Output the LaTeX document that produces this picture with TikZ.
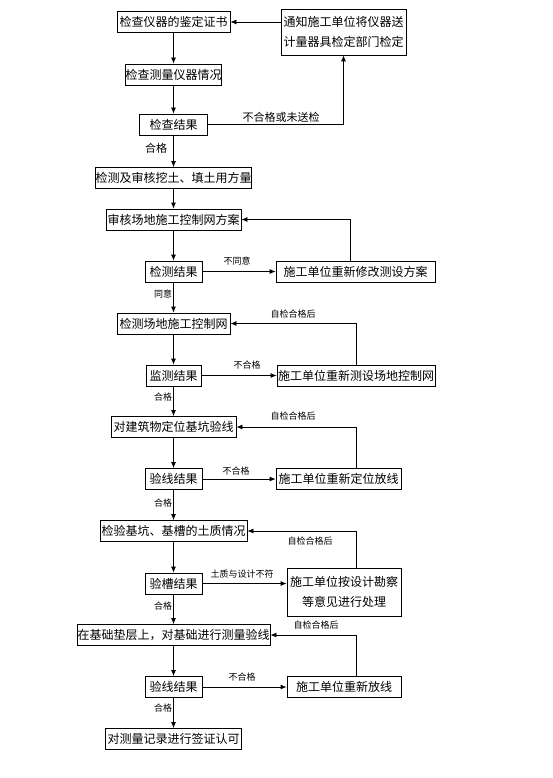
\documentclass[tikz,border=0pt]{standalone}
\usepackage{fontspec}
\setmainfont{Noto Sans CJK SC}
\usetikzlibrary{arrows.meta}

\begin{document}
\begin{tikzpicture}[x=1pt,y=-1pt,>={Latex[length=6pt,width=5pt]},
  box/.style={draw,line width=0.8pt,minimum height=21pt,inner sep=0pt,align=center,font=\fontsize{12}{20}\selectfont},
  tag/.style={inner sep=0pt,font=\fontsize{9}{10}\selectfont},
  bigtag/.style={inner sep=0pt,font=\fontsize{11}{12}\selectfont},
  flow/.style={->,line width=0.8pt}]
  \useasboundingbox (0,0) rectangle (553,778);
  % main column
  \node[box,minimum width=113pt] (cert) at (173.5,22) {检查仪器的鉴定证书};
  \node[box,minimum width=96pt] (inspect) at (173.5,74.5) {检查测量仪器情况};
  \node[box,minimum width=68pt] (res1) at (173.5,124.5) {检查结果};
  \node[box,minimum width=153pt] (earth) at (173.5,178) {检测及审核挖土、填土用方量};
  \node[box,minimum width=135pt] (plan) at (173.5,219.5) {审核场地施工控制网方案};
  \node[box,minimum width=57pt] (res2) at (173.5,271.5) {检测结果};
  \node[box,minimum width=113pt] (net) at (173.5,323.5) {检测场地施工控制网};
  \node[box,minimum width=55pt] (res3) at (173.5,375.5) {监测结果};
  \node[box,minimum width=125pt] (pit) at (173.5,427) {对建筑物定位基坑验线};
  \node[box,minimum width=57pt] (res4) at (173.5,479) {验线结果};
  \node[box,minimum width=147pt] (soil) at (173.5,531) {检验基坑、基槽的土质情况};
  \node[box,minimum width=57pt] (res5) at (173.5,583.5) {验槽结果};
  \node[box,minimum width=193pt] (base) at (173.5,635) {在基础垫层上，对基础进行测量验线};
  \node[box,minimum width=57pt] (res6) at (173.5,687) {验线结果};
  \node[box,minimum width=136pt] (sign) at (173.5,739) {对测量记录进行签证认可};
  % side boxes
  \node[box,minimum width=125pt,minimum height=46pt] (notify) at (343.5,32) {通知施工单位将仪器送\\计量器具检定部门检定};
  \node[box,minimum width=159pt] (redo2) at (355.5,271.5) {施工单位重新修改测设方案};
  \node[box,minimum width=158pt] (redo3) at (356,375.5) {施工单位重新测设场地控制网};
  \node[box,minimum width=125pt] (redo4) at (338.5,479) {施工单位重新定位放线};
  \node[box,minimum width=114pt,minimum height=48pt] (redo5) at (344,592) {施工单位按设计勘察\\等意见进行处理};
  \node[box,minimum width=114pt] (redo6) at (344,687) {施工单位重新放线};

  \foreach \a/\b in {cert/inspect,inspect/res1,res1/earth,earth/plan,plan/res2,res2/net,
    net/res3,res3/pit,pit/res4,res4/soil,soil/res5,res5/base,base/res6,res6/sign}
    \draw[flow] (\a) -- (\b);

  \draw[flow] (res1.east) -| (notify.south);
  \draw[flow] (notify.west |- cert.east) -- (cert.east);
  \foreach \a/\b in {res2/redo2,res3/redo3,res4/redo4,res6/redo6}
    \draw[flow] (\a) -- (\b);
  \draw[flow] (res5.east) -- (res5.east -| redo5.west);

  \coordinate (up1) at (350,0);
  \coordinate (up2) at (356,0);
  \draw[flow] (redo2.north -| up1) |- (plan.east);
  \foreach \r/\t in {redo3/net,redo4/pit,redo5/soil,redo6/base}
    \draw[flow] (\r.north -| up2) |- (\t.east);

  % labels
  \node[bigtag] (t1) at (281,117) {不合格或未送检};
  \node[bigtag] (t2) at (156,148) {合格};
  \node[tag] (t3) at (237,261) {不同意};
  \node[tag] (t4) at (163,294) {同意};
  \node[tag] (t5) at (293,314) {自检合格后};
  \node[tag] (t6) at (247,365) {不合格};
  \node[tag] (t7) at (163,397) {合格};
  \node[tag] (t8) at (293,416) {自检合格后};
  \node[tag] (t9) at (236,471) {不合格};
  \node[tag] (t10) at (163,503) {合格};
  \node[tag] (t11) at (310,541) {自检合格后};
  \node[tag] (t12) at (242,574) {土质与设计不符};
  \node[tag] (t13) at (163,606) {合格};
  \node[tag] (t14) at (316,625) {自检合格后};
  \node[tag] (t15) at (242,677) {不合格};
  \node[tag] (t16) at (163,708) {合格};
\end{tikzpicture}
\end{document}
